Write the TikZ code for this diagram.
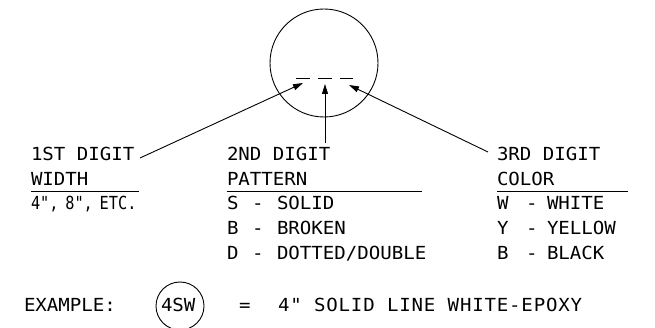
\documentclass[tikz,border=0pt]{standalone}
\usepackage{fontspec}
\usepackage{graphicx}
\newfontfamily\cadfont{DejaVu Sans Mono}[FakeStretch=1.06]
\newfontfamily\cadwide{DejaVu Sans Mono}[FakeStretch=1.06, LetterSpace=4.5]
\usetikzlibrary{arrows.meta}
\begin{document}
\begin{tikzpicture}[x=1pt,y=-1pt,
  every node/.style={inner sep=0pt, outer sep=0pt},
  txt/.style={anchor=base west, font=\cadfont\fontsize{18}{20}\selectfont},
  widetxt/.style={anchor=base west, font=\cadwide\fontsize{18}{20}\selectfont},
  rule/.style={line width=0.9pt},
  ptr/.style={line width=0.9pt, -{Triangle[length=10pt,width=6pt]}},
  ring/.style={draw, circle, line width=0.9pt}]
\useasboundingbox (0,0) rectangle (655,328);
% magnifier circle with dashes
\node[ring, minimum size=108pt] (c) at (324,63) {};
\coordinate (d1a) at (296,78); \coordinate (d1b) at (310,78);
\coordinate (d2a) at (318,78); \coordinate (d2b) at (332,78);
\coordinate (d3a) at (340,78); \coordinate (d3b) at (353,78);
\draw[rule] (d1a) -- (d1b) (d2a) -- (d2b) (d3a) -- (d3b);
\coordinate (t1) at (303,83);
\coordinate (t2) at (325,84);
\coordinate (t3) at (349,85);
% column 1
\node[txt] (h1) at (31,161) {1ST DIGIT};
\node[txt] (w1) at (31,186) {WIDTH};
\node[txt] (v1) at (31,210) {\scalebox{0.8}[1]{4",\hspace{-3pt} 8",\hspace{-3pt} ETC.}};
\coordinate (u1a) at (31,191); \coordinate (u1b) at (139,191);
\draw[rule] (u1a) -- (u1b);
\coordinate (s1) at (140,158);
\draw[ptr] (s1) -- (t1);
% column 2
\node[txt] (h2) at (227,161) {2ND DIGIT};
\node[txt] (w2) at (227,186) {PATTERN};
\coordinate (u2a) at (227,191); \coordinate (u2b) at (422,191);
\draw[rule] (u2a) -- (u2b);
\node[txt] (k21) at (227,210) {S};
\node[txt] (k22) at (227,235) {B};
\node[txt] (k23) at (227,260) {D};
\node[txt] (m21) at (252,210) {-};
\node[txt] (m22) at (252,235) {-};
\node[txt] (m23) at (252,260) {-};
\node[txt] (n21) at (277,210) {SOLID};
\node[txt] (n22) at (277,235) {BROKEN};
\node[txt] (n23) at (277,260) {DOTTED/DOUBLE};
\coordinate (s2) at (325,143);
\draw[ptr] (s2) -- (t2);
% column 3
\node[txt] (h3) at (497,161) {3RD DIGIT};
\node[txt] (w3) at (497,186) {COLOR};
\coordinate (u3a) at (497,191); \coordinate (u3b) at (628,191);
\draw[rule] (u3a) -- (u3b);
\node[txt] (k31) at (497,210) {W};
\node[txt] (k32) at (497,235) {Y};
\node[txt] (k33) at (497,260) {B};
\node[txt] (m31) at (526,210) {-};
\node[txt] (m32) at (526,235) {-};
\node[txt] (m33) at (526,260) {-};
\node[txt] (n31) at (547,210) {WHITE};
\node[txt] (n32) at (547,235) {YELLOW};
\node[txt] (n33) at (547,260) {BLACK};
\coordinate (s3) at (488,152);
\draw[ptr] (s3) -- (t3);
% example
\node[txt] (ex) at (24,311) {EXAMPLE:};
\node[ring, minimum size=48pt] (ec) at (180,306) {};
\node[txt] (es) at (161,311) {4SW};
\node[txt] (eq) at (239,311) {=};
\node[widetxt] (ed) at (278,311) {4" SOLID LINE WHITE-EPOXY};
\end{tikzpicture}
\end{document}
